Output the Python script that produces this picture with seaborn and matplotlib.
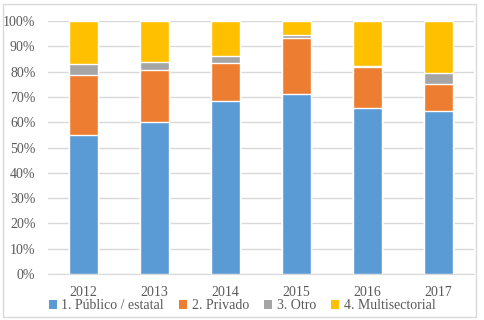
import pandas as pd
import seaborn as sns
import matplotlib.pyplot as plt
from matplotlib.patches import Patch, Rectangle
from matplotlib.ticker import PercentFormatter

# datos (porcentaje por año)
years = ['2012', '2013', '2014', '2015', '2016', '2017']
series = ['1. Público / estatal', '2. Privado', '3. Otro', '4. Multisectorial']
publico = [55.0, 60.2, 68.4, 71.1, 65.7, 64.4]
privado = [23.5, 20.4, 15.0, 22.3, 16.1, 10.8]
otro = [4.5, 3.2, 2.8, 1.1, 0.5, 4.2]
multi = [17.0, 16.2, 13.8, 5.5, 17.7, 20.6]
colors = ['#5B9BD5', '#ED7D31', '#A5A5A5', '#FFC000']

df = pd.DataFrame({'year': years, series[0]: publico, series[1]: privado,
                   series[2]: otro, series[3]: multi})
cum = df[series].cumsum(axis=1)

sns.set_style('white')
plt.rcParams['font.family'] = ['Liberation Serif', 'DejaVu Serif']
txt = '#595959'

fig = plt.figure(figsize=(4.84, 3.2), dpi=100)
ax = fig.add_axes([0.099, 0.144, 0.880, 0.790])

# barras apiladas: se dibuja desde la capa superior hacia abajo
for s, c in reversed(list(zip(series, colors))):
    sns.barplot(x=df['year'], y=cum[s], color=c, width=0.41, ax=ax,
                saturation=1, zorder=3)

ax.set_ylim(0, 100)
ax.set_yticks(range(0, 101, 10))
ax.yaxis.set_major_formatter(PercentFormatter(decimals=0))
ax.grid(axis='y', color='#D9D9D9', linewidth=1, zorder=0)
ax.set_xlabel('')
ax.set_ylabel('')
for sp in ['top', 'right', 'left']:
    ax.spines[sp].set_visible(False)
ax.spines['bottom'].set_color('#D9D9D9')
ax.tick_params(axis='both', length=0, labelsize=10, colors=txt)
ax.tick_params(axis='x', pad=9)
ax.tick_params(axis='y', pad=9)

handles = [Patch(facecolor=c, edgecolor='none') for c in colors]
leg = fig.legend(handles, series, loc='center', bbox_to_anchor=(0.5, 0.045),
                 ncol=4, frameon=False, fontsize=10, handlelength=0.6,
                 handleheight=0.6, handletextpad=0.3, columnspacing=1.1)
for t in leg.get_texts():
    t.set_color(txt)

# borde del área del gráfico
fig.patches.append(Rectangle((0.006, 0.01), 0.978, 0.978, transform=fig.transFigure,
                             fill=False, edgecolor='#D9D9D9', linewidth=1))

fig.savefig('out.png', dpi=100)
